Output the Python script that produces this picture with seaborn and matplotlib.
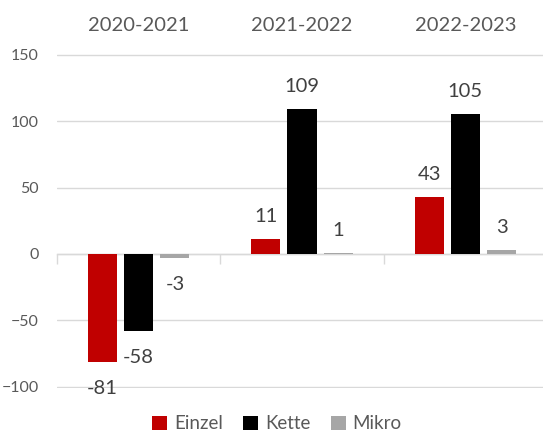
import numpy as np
import pandas as pd
import matplotlib
matplotlib.use('Agg')
import matplotlib.pyplot as plt
import seaborn as sns

# Daten
zeitraeume = ["2020-2021", "2021-2022", "2022-2023"]
typen = ["Einzel", "Kette", "Mikro"]
einzel = [-81, 11, 43]
kette = [-58, 109, 105]
mikro = [-3, 1, 3]
farben = ["#c00000", "#000000", "#a6a6a6"]

df = pd.DataFrame({
    "Zeitraum": zeitraeume * 3,
    "Typ": [t for t in typen for _ in zeitraeume],
    "Wert": einzel + kette + mikro,
})

sns.set_style("white")
plt.rcParams['font.family'] = ['Lato', 'DejaVu Sans']

fig = plt.figure(figsize=(5.43, 4.47), dpi=100)
ax = fig.add_axes([57 / 543, 0.1313, 490 / 543, 0.7497])

sns.barplot(data=df, x="Zeitraum", y="Wert", hue="Typ", hue_order=typen,
            palette=farben, width=0.666, gap=0.2, saturation=1,
            errorbar=None, linewidth=0, ax=ax)

# Wertbeschriftungen
for cont, werte in zip(ax.containers, [einzel, kette, mikro]):
    for bar, v in zip(cont, werte):
        xc = bar.get_x() + bar.get_width() / 2
        if v >= 0:
            ax.annotate(f"{v}", (xc, v), xytext=(0, 10), textcoords="offset points",
                        ha="center", va="bottom", fontsize=14.5, color="#404040")
        else:
            ax.annotate(f"{v}", (xc, v), xytext=(0, -13), textcoords="offset points",
                        ha="center", va="top", fontsize=14.5, color="#404040")

# Achsen
ax.set_xlim(-0.5, 2.5)
ax.set_ylim(-101, 151)
ax.set_yticks(np.arange(-100, 151, 50))
ax.set_xlabel("")
ax.set_ylabel("")
ax.yaxis.grid(True, color="#d9d9d9", linewidth=1)
ax.xaxis.grid(False)
ax.set_axisbelow(True)

for s in ["top", "left", "right"]:
    ax.spines[s].set_visible(False)
ax.spines["bottom"].set_position(("data", 0))
ax.spines["bottom"].set_color("#d9d9d9")
ax.spines["bottom"].set_linewidth(1)
ax.spines["bottom"].set_zorder(0.6)

ax.tick_params(axis="x", which="major", length=0, labeltop=True, labelbottom=False,
               top=False, bottom=False, pad=14, labelsize=14.5, labelcolor="#595959")
ax.set_xticks([-0.5, 0.5, 1.5, 2.5], minor=True)
ax.tick_params(axis="x", which="minor", bottom=True, top=False, length=7,
               width=1, color="#d9d9d9", direction="out")
ax.tick_params(axis="y", length=0, pad=13, labelsize=11.5, labelcolor="#595959")

# Legende
handles, labels = ax.get_legend_handles_labels()
ax.get_legend().remove()
fig.legend(handles, labels, loc="lower center", bbox_to_anchor=(0.51, -0.005), ncol=3,
           frameon=False, fontsize=13.5, labelcolor="#595959",
           handlelength=0.8, handleheight=0.8, handletextpad=0.35, columnspacing=1.1)

fig.savefig("out.png", dpi=100)
